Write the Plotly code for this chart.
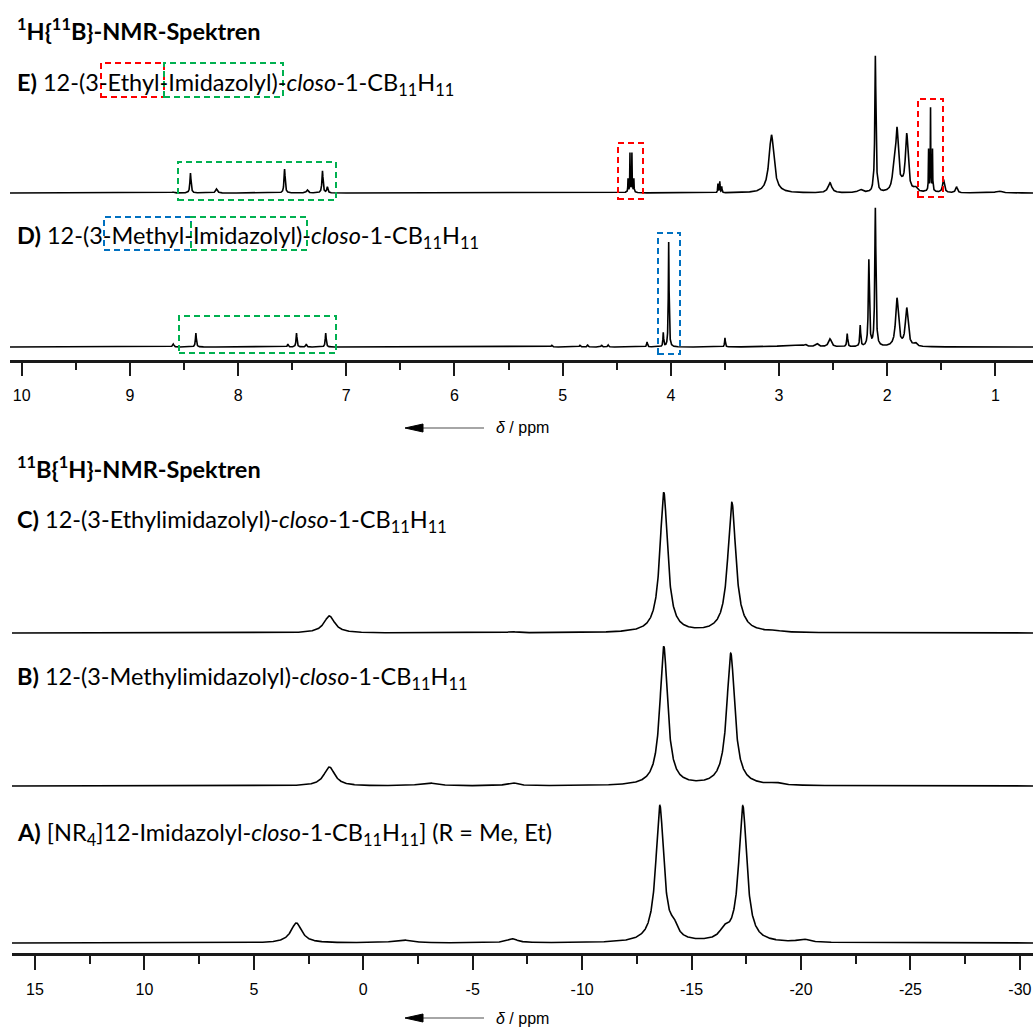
import numpy as np
import plotly.graph_objects as go

W, H = 1033, 1030

# ---------------- DATA ----------------
# 1H{11B} spectra: peak position (ppm), height (a.u.), width (FWHM, ppm)
E_pos = [8.60, 8.44, 8.20, 7.57, 7.36, 7.22, 7.175,
         4.37, 4.396, 4.378, 4.360, 4.342,
         3.565, 3.548, 3.530, 3.07, 2.53, 2.25,
         2.13, 2.11, 2.09, 1.94, 1.91, 1.865, 1.82, 1.74,
         1.60, 1.618, 1.600, 1.582, 1.48, 1.36, 0.97]
E_int = [1, 20, 4, 24, 3, 22, 6,
         2, 13, 38, 38, 13,
         9, 11, 6, 58, 10, 3,
         4, 136, 4, 18, 60, 4, 57, 4,
         4, 40, 80, 40, 13, 6, 2]
E_wid = [0.02, 0.012, 0.02, 0.012, 0.02, 0.012, 0.012,
         0.06, 0.004, 0.004, 0.004, 0.004,
         0.006, 0.006, 0.006, 0.055, 0.04, 0.05,
         0.01, 0.012, 0.01, 0.03, 0.03, 0.04, 0.03, 0.04,
         0.05, 0.004, 0.004, 0.004, 0.02, 0.02, 0.06]

D_pos = [8.60, 8.39, 7.54, 7.46, 7.37, 7.19,
         5.10, 4.84, 4.77, 4.64, 4.58,
         4.22, 4.07, 4.02, 3.50,
         2.90, 2.76, 2.65, 2.53, 2.37, 2.25, 2.17, 2.11,
         1.91, 1.82, 1.74]
D_int = [3, 14, 3, 14, 3, 14,
         2, 2, 2, 2, 2,
         5, 14, 105, 9,
         2, 2, 3, 8, 13, 21, 86, 138,
         48, 38, 3]
D_wid = [0.015, 0.01, 0.01, 0.01, 0.01, 0.01,
         0.01, 0.01, 0.01, 0.01, 0.01,
         0.01, 0.008, 0.008, 0.008,
         0.2, 0.03, 0.03, 0.03, 0.01, 0.01, 0.012, 0.012,
         0.03, 0.03, 0.03]

# 11B{1H} spectra
C_pos = [1.55, -6.8, -13.73, -16.84, -18.8]
C_int = [17, 1, 140, 130, 1]
C_wid = [0.6, 0.6, 0.42, 0.44, 0.6]

B_pos = [1.55, -2.97, -6.8, -13.73, -16.79, -18.85]
B_int = [19, 3, 3, 139, 132, 2]
B_wid = [0.6, 0.9, 0.6, 0.42, 0.44, 0.6]

A_pos = [3.06, -1.79, -6.8, -13.55, -14.2, -16.5, -17.34, -20.1]
A_int = [20, 3, 4, 136, 10, 9, 136, 3]
A_wid = [0.6, 0.9, 0.6, 0.44, 0.4, 0.5, 0.44, 0.6]

H_ticks = [10, 9, 8, 7, 6, 5, 4, 3, 2, 1]
B_ticks = [15, 10, 5, 0, -5, -10, -15, -20, -25, -30]

# ---------------- helpers ----------------
def spectrum(grid, pos, inten, wid):
    y = np.zeros_like(grid)
    for p, h, w in zip(pos, inten, wid):
        y += h / (1.0 + ((grid - p) / (w / 2.0)) ** 2)
    return y

def px(xp):
    return xp / W

def py(yp):
    return 1 - yp / H

H_range = [10.108, 0.653]
B_range = [16.05, -30.6]
gridH = np.linspace(H_range[0], H_range[1], 20000)
gridB = np.linspace(B_range[0], B_range[1], 5000)

fig = go.Figure()

# y axes: baselines in px from top
baselines = {"y": 193, "y2": 347, "y3": 633, "y4": 786, "y5": 943}
span_up, span_dn = 170, 10

series = [
    ("E", gridH, E_pos, E_int, E_wid, "x", "y"),
    ("D", gridH, D_pos, D_int, D_wid, "x", "y2"),
    ("C", gridB, C_pos, C_int, C_wid, "x2", "y3"),
    ("B", gridB, B_pos, B_int, B_wid, "x2", "y4"),
    ("A", gridB, A_pos, A_int, A_wid, "x2", "y5"),
]
for name, g, p, i, w, xa, ya in series:
    fig.add_trace(go.Scatter(x=g, y=spectrum(g, p, i, w), mode="lines",
                             line=dict(color="black", width=1.6),
                             xaxis=xa, yaxis=ya, name=name,
                             showlegend=False, hoverinfo="skip"))

layout_axes = {}
for ya, b in baselines.items():
    key = "yaxis" if ya == "y" else "yaxis" + ya[1:]
    layout_axes[key] = dict(domain=[py(b + span_dn), py(b - span_up)],
                            range=[-span_dn, span_up], visible=False,
                            anchor="x" if ya in ("y", "y2") else "x2",
                            fixedrange=True)

tickfont = dict(family="Liberation Sans, Arial, sans-serif", size=16, color="black")

fig.update_layout(
    width=W, height=H, margin=dict(l=0, r=0, t=0, b=0),
    paper_bgcolor="white", plot_bgcolor="rgba(0,0,0,0)",
    xaxis=dict(domain=[px(10), 1], range=H_range, anchor="free", position=py(361),
               showline=True, linewidth=3, linecolor="#1a1a1a",
               ticks="outside", ticklen=13, tickwidth=2, tickcolor="#1a1a1a",
               tickvals=H_ticks, ticktext=[str(t) for t in H_ticks],
               minor=dict(dtick=0.5, ticks="outside", ticklen=7, tickwidth=2,
                          tickcolor="#1a1a1a"),
               showgrid=False, zeroline=False, tickfont=tickfont,
               ticklabelstandoff=6),
    xaxis2=dict(domain=[px(12), 1], range=B_range, anchor="free", position=py(954),
                showline=True, linewidth=3, linecolor="#1a1a1a",
                ticks="outside", ticklen=14, tickwidth=2, tickcolor="#1a1a1a",
                tickvals=B_ticks, ticktext=[str(t) for t in B_ticks],
                minor=dict(dtick=2.5, ticks="outside", ticklen=8, tickwidth=2,
                           tickcolor="#1a1a1a"),
                showgrid=False, zeroline=False, tickfont=tickfont,
                ticklabelstandoff=6),
    **layout_axes,
)

# ---------------- text ----------------
lab_font = "Lato, Open Sans, sans-serif"
texts = [
    ("<b><sup>1</sup>H{<sup>11</sup>B}-NMR-Spektren</b>", 15, 30),
    ("<b>E)</b> 12-(3-Ethyl-Imidazolyl)-<i>closo</i>-1-CB<sub>11</sub>H<sub>11</sub>", 15, 84),
    ("<b>D)</b> 12-(3-Methyl-Imidazolyl)-<i>closo</i>-1-CB<sub>11</sub>H<sub>11</sub>", 15, 237),
    ("<b><sup>11</sup>B{<sup>1</sup>H}-NMR-Spektren</b>", 15, 467),
    ("<b>C)</b> 12-(3-Ethylimidazolyl)-<i>closo</i>-1-CB<sub>11</sub>H<sub>11</sub>", 15, 521),
    ("<b>B)</b> 12-(3-Methylimidazolyl)-<i>closo</i>-1-CB<sub>11</sub>H<sub>11</sub>", 15, 678),
    ("<b>A)</b> [NR<sub>4</sub>]12-Imidazolyl-<i>closo</i>-1-CB<sub>11</sub>H<sub>11</sub>] (R = Me, Et)", 15, 834),
]
for t, xx, yy in texts:
    fig.add_annotation(text=t, x=px(xx), y=py(yy), xref="paper", yref="paper",
                       xanchor="left", yanchor="middle", showarrow=False,
                       font=dict(family=lab_font, size=23.5, color="black"))

delta_label = "<i>δ</i> / ppm"
for yy in (428, 1018):
    fig.add_annotation(text=delta_label, x=px(494), y=py(yy), xref="paper", yref="paper",
                       xanchor="left", yanchor="middle", showarrow=False,
                       font=dict(family="Liberation Sans, Arial, sans-serif", size=16, color="black"))
    fig.add_shape(type="line", xref="paper", yref="paper",
                  x0=px(420), x1=px(484), y0=py(yy), y1=py(yy),
                  line=dict(color="#888888", width=1.5))
    fig.add_shape(type="path", xref="paper", yref="paper",
                  path=f"M {px(405)} {py(yy)} L {px(423)} {py(yy - 4)} L {px(423)} {py(yy + 4)} Z",
                  fillcolor="black", line=dict(color="black", width=1))

# ---------------- dashed boxes ----------------
RED, GREEN, BLUE = "#ff0000", "#00b050", "#0070c0"
boxes = [
    (101, 63, 164, 97, RED), (164, 63, 283, 97, GREEN),
    (178, 162, 336, 200, GREEN),
    (618, 143, 643, 199, RED), (918, 99, 943, 197, RED),
    (104, 217, 191, 250, BLUE), (191, 217, 307, 250, GREEN),
    (179, 316, 336, 353, GREEN),
    (658, 233, 680, 354, BLUE),
]
for x0, y0, x1, y1, c in boxes:
    fig.add_shape(type="rect", xref="paper", yref="paper",
                  x0=px(x0), x1=px(x1), y0=py(y1), y1=py(y0),
                  line=dict(color=c, width=2, dash="6px,4px"))

fig.write_html("out.html")
